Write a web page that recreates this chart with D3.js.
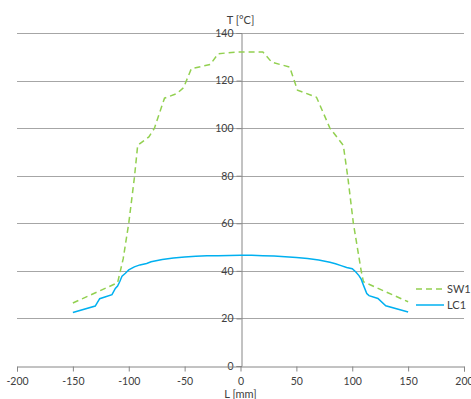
<!DOCTYPE html>
<html>
<head>
<meta charset="utf-8">
<script src="https://cdn.jsdelivr.net/npm/d3@7"></script>
<style>
  body { margin: 0; background: #fff; }
  text { font-family: Lato, "Open Sans", sans-serif; fill: #404040; }
</style>
</head>
<body>
<div id="chart"></div>
<script>
// series data
var swX = [-150, -110, -105, -100, -95, -92, -82, -77, -68, -57, -51, -44, -27, -20, -3, 20, 28, 44, 51, 68, 80, 92, 96, 101, 108, 110, 150];
var swY = [26.5, 35, 45, 60, 79, 92.8, 96.3, 100, 112.6, 114.5, 117, 125, 126.8, 131.3, 132, 132, 127.7, 125.7, 116, 113, 100, 92.8, 79.5, 60, 40, 35.4, 27];

var lcX = [-150, -130, -126, -115, -112, -110, -108, -106, -103, -100, -95, -90, -84, -80, -70, -60, -50, -40, -30, -20, -10, 0, 10, 20, 30, 40, 50, 60, 70, 80, 85, 90, 95, 100, 103, 106, 108, 110, 113, 115, 123, 130, 150];
var lcY = [22.5, 25.2, 28.3, 30, 32.6, 33.6, 35.5, 37.8, 39, 40.4, 41.7, 42.5, 43.1, 43.8, 44.8, 45.4, 45.8, 46.1, 46.3, 46.4, 46.5, 46.6, 46.6, 46.4, 46.2, 45.9, 45.6, 45.2, 44.6, 43.6, 43, 42.2, 41.4, 40.9, 39.6, 38, 36.5, 34, 30.5, 29.6, 28.4, 25.3, 22.7];

var seriesNames = ["SW1", "LC1"];
var xTicks = [-200, -150, -100, -50, 0, 50, 100, 150, 200];
var yTicks = [0, 20, 40, 60, 80, 100, 120, 140];

var width = 471, height = 399;
var plotLeft = 17, plotRight = 464, plotTop = 33, plotBottom = 366;

var svg = d3.select("#chart").append("svg")
  .attr("width", width)
  .attr("height", height);

var x = d3.scaleLinear().domain([-200, 200]).range([plotLeft, plotRight]);
var y = d3.scaleLinear().domain([0, 140]).range([plotBottom, plotTop]);

// horizontal gridlines
svg.append("g")
  .selectAll("line")
  .data(yTicks.filter(function (d) { return d > 0; }))
  .enter().append("line")
  .attr("x1", plotLeft).attr("x2", plotRight)
  .attr("y1", function (d) { return Math.round(y(d)) + 0.5; })
  .attr("y2", function (d) { return Math.round(y(d)) + 0.5; })
  .attr("stroke", "#a6a6a6")
  .attr("stroke-width", 1);

var plain = function (d) { return String(d); };

// y axis sits on x = 0
var yAxis = svg.append("g")
  .attr("transform", "translate(" + (Math.round(x(0)) + 0.5) + ",0)")
  .call(d3.axisLeft(y).tickValues(yTicks).tickFormat(plain).tickSize(5).tickPadding(3));

// x axis sits on y = 0
var xAxis = svg.append("g")
  .attr("transform", "translate(0," + (Math.round(y(0)) + 0.5) + ")")
  .call(d3.axisBottom(x).tickValues(xTicks).tickFormat(plain).tickSize(5).tickPadding(6));

[yAxis, xAxis].forEach(function (a) {
  a.select(".domain").attr("stroke", "#868686");
  a.selectAll(".tick line").attr("stroke", "#868686");
  a.selectAll(".tick text").style("font-size", "10.5px").attr("fill", "#404040");
});

// axis titles
svg.append("text")
  .attr("x", x(0))
  .attr("y", 24)
  .attr("text-anchor", "middle")
  .style("font-size", "11px")
  .text("T [°C]");

svg.append("text")
  .attr("x", x(0))
  .attr("y", 398)
  .attr("text-anchor", "middle")
  .style("font-size", "11px")
  .text("L [mm]");

var line = d3.line()
  .x(function (d) { return x(d[0]); })
  .y(function (d) { return y(d[1]); });

var sw = d3.zip(swX, swY);
var lc = d3.zip(lcX, lcY);

svg.append("path")
  .datum(sw)
  .attr("d", line)
  .attr("fill", "none")
  .attr("stroke", "#92d050")
  .attr("stroke-width", 1.5)
  .attr("stroke-dasharray", "6,4");

svg.append("path")
  .datum(lc)
  .attr("d", line)
  .attr("fill", "none")
  .attr("stroke", "#00b0f0")
  .attr("stroke-width", 1.5);

// legend
var legend = svg.append("g");
var styles = [
  { color: "#92d050", dash: "6,4" },
  { color: "#00b0f0", dash: null }
];
seriesNames.forEach(function (name, i) {
  var ly = 289 + i * 16;
  legend.append("line")
    .attr("x1", 416).attr("x2", 444)
    .attr("y1", ly).attr("y2", ly)
    .attr("stroke", styles[i].color)
    .attr("stroke-width", 1.5)
    .attr("stroke-dasharray", styles[i].dash);
  legend.append("text")
    .attr("x", 447)
    .attr("y", ly + 4)
    .style("font-size", "11px")
    .text(name);
});
</script>
</body>
</html>
